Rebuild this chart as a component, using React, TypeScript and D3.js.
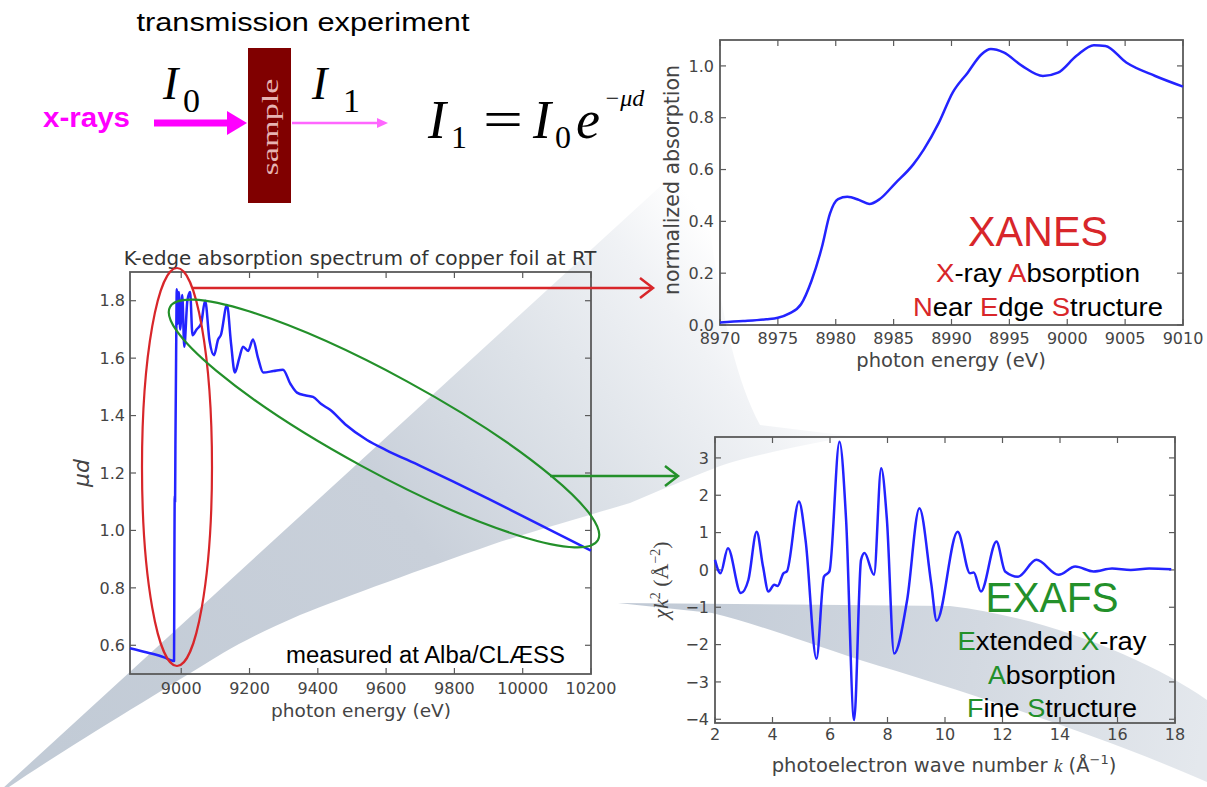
import React from "react";
import * as d3 from "d3";

const W = 1207;
const H = 787;

// ---------- data ----------
const mainEnergy = [8850, 8900, 8950, 8975, 8979, 8980, 8981, 8982, 8983, 8985, 8987, 8990, 8993, 8997, 9003, 9009, 9018, 9026, 9033, 9045, 9058, 9070, 9083, 9096, 9108, 9116, 9134, 9146, 9157, 9170, 9181, 9196, 9210, 9225, 9240, 9270, 9298, 9320, 9339, 9365, 9386, 9410, 9436, 9480, 9544, 9600, 9700, 9800, 9900, 10000, 10100, 10200];
const mainMu = [0.59, 0.575, 0.558, 0.546, 0.545, 0.9, 1.12, 1.1, 1.3, 1.6, 1.84, 1.72, 1.83, 1.7, 1.82, 1.64, 1.8, 1.83, 1.68, 1.7, 1.72, 1.8, 1.66, 1.61, 1.665, 1.68, 1.785, 1.65, 1.55, 1.6, 1.64, 1.625, 1.665, 1.6, 1.55, 1.555, 1.56, 1.51, 1.48, 1.47, 1.465, 1.44, 1.42, 1.37, 1.315, 1.28, 1.225, 1.168, 1.11, 1.05, 0.99, 0.93];

const xanesEnergy = [8970, 8972, 8974, 8975, 8976, 8977, 8977.9, 8978.8, 8979.5, 8980.2, 8981, 8982, 8982.9, 8983.8, 8985.1, 8986.7, 8987.6, 8988.9, 8990.1, 8991.4, 8992.6, 8993.4, 8994.5, 8996.1, 8997.9, 8999.2, 9000.8, 9002.3, 9003.3, 9005.1, 9007.6, 9010];
const xanesNorm = [0.01, 0.015, 0.022, 0.028, 0.045, 0.08, 0.17, 0.3, 0.43, 0.486, 0.495, 0.483, 0.467, 0.486, 0.545, 0.62, 0.677, 0.78, 0.897, 0.974, 1.045, 1.065, 1.052, 1.0, 0.961, 0.974, 1.039, 1.08, 1.077, 1.013, 0.961, 0.92];

const exafsK = [2.0, 2.19, 2.45, 2.9, 3.16, 3.45, 3.67, 3.86, 4.06, 4.18, 4.38, 4.5, 4.92, 5.15, 5.53, 5.79, 5.98, 6.33, 6.56, 6.84, 7.08, 7.2, 7.53, 7.78, 7.98, 8.23, 8.68, 9.11, 9.52, 9.71, 10.44, 10.87, 11.0, 11.25, 11.79, 12.09, 12.54, 13.18, 13.95, 14.53, 15.17, 15.81, 16.46, 17.1, 17.87];
const exafsChi = [0.27, -0.09, 0.58, -0.62, -0.27, 1.02, 0.09, -0.58, -0.4, -0.43, -0.09, -0.04, 1.83, 0.8, -2.38, -0.18, -0.04, 3.43, 1.34, -4.02, 0.27, 0.45, -0.13, 2.72, 1.34, -2.24, -0.82, 1.65, -0.36, -1.36, 1.02, -0.09, -0.07, -0.58, 0.76, -0.04, -0.18, 0.27, -0.13, 0.09, -0.04, 0.04, 0.0, 0.04, 0.02];

const mainXTicks = [9000, 9200, 9400, 9600, 9800, 10000, 10200];
const mainYTicks = [0.6, 0.8, 1.0, 1.2, 1.4, 1.6, 1.8];
const xanesXTicks = [8970, 8975, 8980, 8985, 8990, 8995, 9000, 9005, 9010];
const xanesYTicks = [0.0, 0.2, 0.4, 0.6, 0.8, 1.0];
const exafsXTicks = [2, 4, 6, 8, 10, 12, 14, 16, 18];
const exafsYTicks = [-4, -3, -2, -1, 0, 1, 2, 3];

// ---------- scales ----------
const mainX = d3.scaleLinear().domain([8850, 10200]).range([130, 591]);
const mainY = d3.scaleLinear().domain([0.5, 1.9]).range([674, 272]);
const xanesX = d3.scaleLinear().domain([8970, 9010]).range([720, 1183]);
const xanesY = d3.scaleLinear().domain([0, 1.1]).range([325, 40]);
const exafsX = d3.scaleLinear().domain([2, 18]).range([715, 1175]);
const exafsY = d3.scaleLinear().domain([-4.1, 3.56]).range([723, 437]);

const BLUE = "#2323ff";
const RED = "#d8262a";
const GREEN = "#23902a";
const MAGENTA = "#ff00ff";
const TICKCOL = "#444";
const SANS = "DejaVu Sans, sans-serif";
const ARIAL = "Liberation Sans, Arial, sans-serif";
const SERIF = "Liberation Serif, Times New Roman, serif";

const fmt1 = d3.format(".1f");
const fmtMinus = (d: number) => (d < 0 ? "\u2212" + Math.abs(d) : String(d));

type AxesProps = {
  xs: d3.ScaleLinear<number, number>;
  ys: d3.ScaleLinear<number, number>;
  xTicks: number[];
  yTicks: number[];
  xFmt: (d: number) => string;
  yFmt: (d: number) => string;
  xLabDy: number;
  yLabDx: number;
  fontSize: number;
};

function Axes({ xs, ys, xTicks, yTicks, xFmt, yFmt, xLabDy, yLabDx, fontSize }: AxesProps) {
  const [x0, x1] = xs.range();
  const [y0, y1] = ys.range();
  const tl = 6;
  return (
    <g>
      <rect x={x0} y={y1} width={x1 - x0} height={y0 - y1} fill="none" stroke="#5a5a5a" strokeWidth={1.8} />
      {xTicks.map((t) => (
        <g key={"x" + t} stroke="#5a5a5a" strokeWidth={1.2}>
          <line x1={xs(t)} x2={xs(t)} y1={y0} y2={y0 - tl} />
          <line x1={xs(t)} x2={xs(t)} y1={y1} y2={y1 + tl} />
        </g>
      ))}
      {yTicks.map((t) => (
        <g key={"y" + t} stroke="#5a5a5a" strokeWidth={1.2}>
          <line x1={x0} x2={x0 + tl} y1={ys(t)} y2={ys(t)} />
          <line x1={x1} x2={x1 - tl} y1={ys(t)} y2={ys(t)} />
        </g>
      ))}
      {xTicks.map((t) => (
        <text key={"xl" + t} x={xs(t)} y={y0 + xLabDy} textAnchor="middle" fontFamily={SANS} fontSize={fontSize} fill={TICKCOL}>
          {xFmt(t)}
        </text>
      ))}
      {yTicks.map((t) => (
        <text key={"yl" + t} x={x0 - yLabDx} y={ys(t) + fontSize * 0.36} textAnchor="end" fontFamily={SANS} fontSize={fontSize} fill={TICKCOL}>
          {yFmt(t)}
        </text>
      ))}
    </g>
  );
}

export default function App() {
  const mainLine = d3
    .line<number>()
    .x((_, i) => mainX(mainEnergy[i]))
    .y((d) => mainY(d))
    .curve(d3.curveMonotoneX)(mainMu) as string;
  const xanesLine = d3
    .line<number>()
    .x((_, i) => xanesX(xanesEnergy[i]))
    .y((d) => xanesY(d))
    .curve(d3.curveMonotoneX)(xanesNorm) as string;
  const exafsLine = d3
    .line<number>()
    .x((_, i) => exafsX(exafsK[i]))
    .y((d) => exafsY(d))
    .curve(d3.curveMonotoneX)(exafsChi) as string;

  // ellipse geometry
  const gx1 = 170, gy1 = 307, gx2 = 598, gy2 = 540;
  const gcx = (gx1 + gx2) / 2, gcy = (gy1 + gy2) / 2;
  const grx = Math.hypot(gx2 - gx1, gy2 - gy1) / 2;
  const gang = (Math.atan2(gy2 - gy1, gx2 - gx1) * 180) / Math.PI;

  return (
    <svg width={W} height={H} style={{ position: "absolute", left: 0, top: 0, background: "#fff" }}>
      <defs>
        <linearGradient id="wedgeA" gradientUnits="userSpaceOnUse" x1={60} y1={760} x2={730} y2={250}>
          <stop offset="0" stopColor="#c2cbd6" />
          <stop offset="0.5" stopColor="#c9d0da" />
          <stop offset="0.72" stopColor="#dde2e8" />
          <stop offset="0.9" stopColor="#f0f2f5" />
          <stop offset="1" stopColor="#ffffff" />
        </linearGradient>
        <linearGradient id="wedgeB" gradientUnits="userSpaceOnUse" x1={620} y1={610} x2={1207} y2={720}>
          <stop offset="0" stopColor="#c0c9d5" />
          <stop offset="0.6" stopColor="#d3d9e1" />
          <stop offset="1" stopColor="#e4e8ed" />
        </linearGradient>
      </defs>

      {/* background beams */}
      <path
        d="M-10,800 L700,150 C712,250 725,360 760,425 L850,436 C790,448 740,458 715,468 C690,478 660,490 630,503 C580,518 530,532 491,545 C420,570 350,595 300,615 C270,628 245,640 223,653 C150,698 60,752 9,787 Z"
        fill="url(#wedgeA)"
      />
      <path
        d="M618,603 L950,606 C1050,618 1150,660 1207,700 L1207,782 C1100,735 960,690 860,660 C800,640 750,622 712,613 Z"
        fill="url(#wedgeB)"
      />

      {/* ---------- transmission experiment diagram ---------- */}
      <text x={303} y={31} textAnchor="middle" fontFamily={ARIAL} fontSize={26} textLength={333} lengthAdjust="spacingAndGlyphs" fill="#000">
        transmission experiment
      </text>
      <text x={43} y={127} fontFamily={ARIAL} fontWeight="bold" fontSize={27} textLength={87} lengthAdjust="spacingAndGlyphs" fill={MAGENTA}>
        x-rays
      </text>
      <line x1={154} y1={123} x2={232} y2={123} stroke={MAGENTA} strokeWidth={7} />
      <polygon points="227,111 247,123 227,135" fill={MAGENTA} />
      <rect x={248} y={48} width={43} height={155} fill="#800000" />
      <text transform="translate(278,127) rotate(-90)" textAnchor="middle" fontFamily={SERIF} fontSize={24} textLength={97} lengthAdjust="spacingAndGlyphs" fill="#e6b3b3">
        sample
      </text>
      <line x1={292} y1={123} x2={380} y2={123} stroke="#ff66ff" strokeWidth={2.5} />
      <polygon points="377,118 388,123 377,128" fill="#ff66ff" />
      <text x={163} y={99} fontFamily={SERIF} fontStyle="italic" fontSize={46} fill="#000">I</text>
      <text x={183} y={112} fontFamily={SERIF} fontSize={34} fill="#000">0</text>
      <text x={312} y={99} fontFamily={SERIF} fontStyle="italic" fontSize={46} fill="#000">I</text>
      <text x={343} y={112} fontFamily={SERIF} fontSize={34} fill="#000">1</text>

      {/* formula */}
      <text x={428} y={138} fontFamily={SERIF} fontStyle="italic" fontSize={54} fill="#000">I</text>
      <text x={451} y={148} fontFamily={SERIF} fontSize={32} fill="#000">1</text>
      <text x={483} y={137} fontFamily={SERIF} fontSize={52} textLength={40} lengthAdjust="spacingAndGlyphs" fill="#000">=</text>
      <text x={533} y={138} fontFamily={SERIF} fontStyle="italic" fontSize={54} fill="#000">I</text>
      <text x={555} y={148} fontFamily={SERIF} fontSize={32} fill="#000">0</text>
      <text x={576} y={138} fontFamily={SERIF} fontStyle="italic" fontSize={54} fill="#000">e</text>
      <text x={604} y={106} fontFamily={SERIF} fontStyle="italic" fontSize={24} fill="#000">{"\u2212\u03bcd"}</text>

      {/* ---------- main spectrum ---------- */}
      <text x={360} y={265} textAnchor="middle" fontFamily={SANS} fontSize={19.8} fill="#333">
        K-edge absorption spectrum of copper foil at RT
      </text>
      <Axes xs={mainX} ys={mainY} xTicks={mainXTicks} yTicks={mainYTicks} xFmt={(d) => String(d)} yFmt={fmt1} xLabDy={20} yLabDx={5} fontSize={16} />
      <path d={mainLine} fill="none" stroke={BLUE} strokeWidth={2.5} strokeLinejoin="round" />
      <text x={361} y={717} textAnchor="middle" fontFamily={SANS} fontSize={18.5} fill="#444">
        photon energy (eV)
      </text>
      <text transform="translate(89,473) rotate(-90)" textAnchor="middle" fontFamily={SANS} fontStyle="italic" fontSize={22} fill="#444">
        {"\u03bcd"}
      </text>
      <text x={286} y={663} fontFamily={ARIAL} fontSize={23} textLength={279} lengthAdjust="spacingAndGlyphs" fill="#000">
        {"measured at Alba/CL\u00c6SS"}
      </text>

      {/* ellipses and arrows */}
      <ellipse cx={177} cy={467} rx={35} ry={199} fill="none" stroke={RED} strokeWidth={2.2} />
      <ellipse cx={gcx} cy={gcy} rx={grx} ry={48} transform={`rotate(${gang},${gcx},${gcy})`} fill="none" stroke={GREEN} strokeWidth={2.2} />
      <line x1={193} y1={288} x2={651} y2={288} stroke={RED} strokeWidth={2.5} />
      <path d="M640,278 L653,288 L640,298" fill="none" stroke={RED} strokeWidth={2.5} />
      <line x1={550} y1={476} x2={676} y2={476} stroke={GREEN} strokeWidth={2.5} />
      <path d="M665,466 L678,476 L665,486" fill="none" stroke={GREEN} strokeWidth={2.5} />

      {/* ---------- XANES ---------- */}
      <Axes xs={xanesX} ys={xanesY} xTicks={xanesXTicks} yTicks={xanesYTicks} xFmt={(d) => String(d)} yFmt={fmt1} xLabDy={19} yLabDx={6} fontSize={16} />
      <path d={xanesLine} fill="none" stroke={BLUE} strokeWidth={2.5} strokeLinejoin="round" />
      <text x={951} y={367} textAnchor="middle" fontFamily={SANS} fontSize={19.5} fill="#444">
        photon energy (eV)
      </text>
      <text transform="translate(679,180) rotate(-90)" textAnchor="middle" fontFamily={SANS} fontSize={20.5} fill="#444">
        normalized absorption
      </text>
      <text x={1038} y={246} textAnchor="middle" fontFamily={ARIAL} fontSize={42} textLength={140} lengthAdjust="spacingAndGlyphs" fill={RED}>
        XANES
      </text>
      <text x={1038} y={282} textAnchor="middle" fontFamily={ARIAL} fontSize={25} textLength={204} lengthAdjust="spacingAndGlyphs" fill="#000">
        <tspan fill={RED}>X</tspan>-ray <tspan fill={RED}>A</tspan>bsorption
      </text>
      <text x={1038} y={316} textAnchor="middle" fontFamily={ARIAL} fontSize={25} textLength={250} lengthAdjust="spacingAndGlyphs" fill="#000">
        <tspan fill={RED}>N</tspan>ear <tspan fill={RED}>E</tspan>dge <tspan fill={RED}>S</tspan>tructure
      </text>

      {/* ---------- EXAFS ---------- */}
      <Axes xs={exafsX} ys={exafsY} xTicks={exafsXTicks} yTicks={exafsYTicks} xFmt={(d) => String(d)} yFmt={fmtMinus} xLabDy={17} yLabDx={6} fontSize={16} />
      <path d={exafsLine} fill="none" stroke={BLUE} strokeWidth={2.5} strokeLinejoin="round" />
      <text x={944} y={772} textAnchor="middle" fontFamily={SANS} fontSize={19.5} fill="#444">
        photoelectron wave number <tspan fontFamily={SERIF} fontStyle="italic">k</tspan> ({"\u00c5"}
        <tspan dy={-8} fontSize={13}>{"\u22121"}</tspan>
        <tspan dy={8}>)</tspan>
      </text>
      <text transform="translate(668,580) rotate(-90)" textAnchor="middle" fontFamily={SERIF} fontSize={22} fill="#444">
        <tspan fontStyle="italic">{"\u03c7k"}</tspan>
        <tspan dy={-8} fontSize={14}>2</tspan>
        <tspan dy={8}>{"  (\u00c5"}</tspan>
        <tspan dy={-8} fontSize={14}>{"\u22122"}</tspan>
        <tspan dy={8}>)</tspan>
      </text>
      <text x={1052} y={612} textAnchor="middle" fontFamily={ARIAL} fontSize={42} textLength={133} lengthAdjust="spacingAndGlyphs" fill={GREEN}>
        EXAFS
      </text>
      <text x={1052} y={650} textAnchor="middle" fontFamily={ARIAL} fontSize={25} textLength={189} lengthAdjust="spacingAndGlyphs" fill="#000">
        <tspan fill={GREEN}>E</tspan>xtended <tspan fill={GREEN}>X</tspan>-ray
      </text>
      <text x={1052} y={684} textAnchor="middle" fontFamily={ARIAL} fontSize={25} textLength={128} lengthAdjust="spacingAndGlyphs" fill="#000">
        <tspan fill={GREEN}>A</tspan>bsorption
      </text>
      <text x={1052} y={717} textAnchor="middle" fontFamily={ARIAL} fontSize={25} textLength={170} lengthAdjust="spacingAndGlyphs" fill="#000">
        <tspan fill={GREEN}>F</tspan>ine <tspan fill={GREEN}>S</tspan>tructure
      </text>
    </svg>
  );
}
